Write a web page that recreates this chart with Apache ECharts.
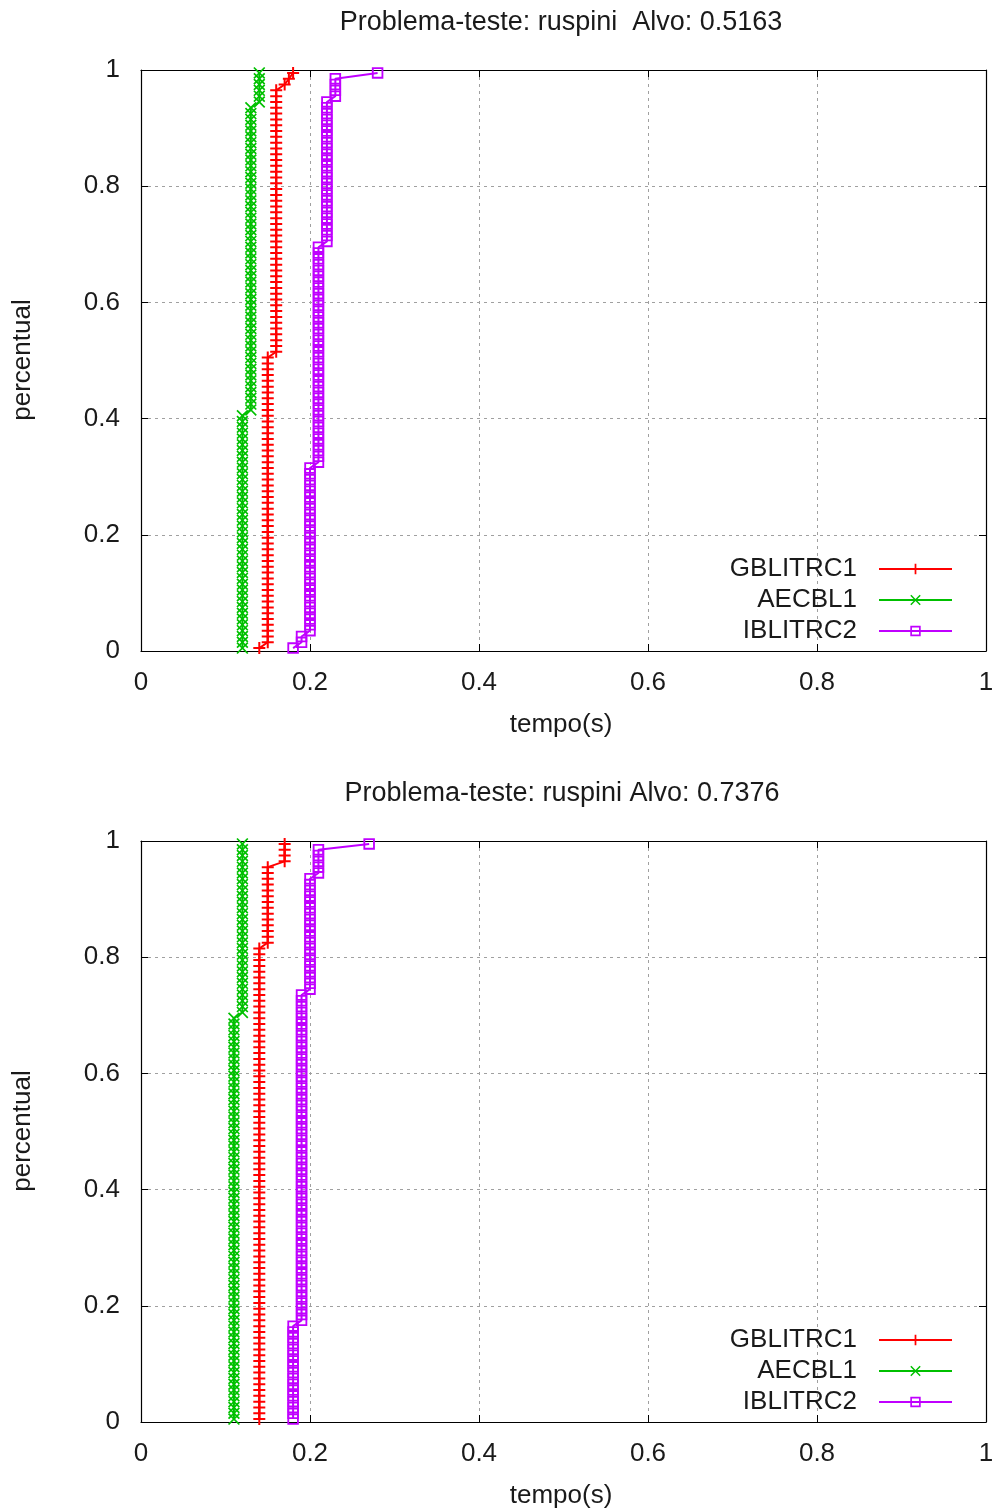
<!DOCTYPE html>
<html>
<head>
<meta charset="utf-8">
<script src="https://cdn.jsdelivr.net/npm/echarts@6/dist/echarts.min.js"></script>
<style>
  html, body { margin: 0; padding: 0; background: #ffffff; }
  #chart { width: 997px; height: 1512px; }
</style>
</head>
<body>
<div id="chart"></div>
<script>
// Time-to-target plots: sorted run times (s) written as runs of equal
// times plus how many runs share each time. 100 runs per algorithm.
const seriesNames = ['GBLITRC1', 'AECBL1', 'IBLITRC2'];

// Target 0.5163
const top_GBLITRC1_times  = [0.14, 0.15, 0.16, 0.17, 0.175, 0.18];
const top_GBLITRC1_counts = [1,    50,   46,   1,    1,     1];
const top_AECBL1_times    = [0.12, 0.13, 0.14];
const top_AECBL1_counts   = [41,   53,   6];
const top_IBLITRC2_times  = [0.18, 0.19, 0.20, 0.21, 0.22, 0.23, 0.28];
const top_IBLITRC2_counts = [1,    2,    29,   38,   25,   4,    1];

// Target 0.7376
const bot_GBLITRC1_times  = [0.14, 0.15, 0.17];
const bot_GBLITRC1_counts = [82,   14,   4];
const bot_AECBL1_times    = [0.11, 0.12];
const bot_AECBL1_counts   = [70,   30];
const bot_IBLITRC2_times  = [0.18, 0.19, 0.20, 0.21, 0.27];
const bot_IBLITRC2_counts = [17,   57,   20,   5,    1];

const titles = ['Problema-teste: ruspini  Alvo: 0.5163', 'Problema-teste: ruspini Alvo: 0.7376'];
const xName = 'tempo(s)';
const yName = 'percentual';

// Empirical cumulative probability: i-th fastest run plotted at (i - 1/2) / n
function cdfPoints(times, counts) {
  const sorted = [];
  times.forEach((t, k) => { for (let j = 0; j < counts[k]; j++) sorted.push(t); });
  const n = sorted.length;
  return sorted.map((t, i) => [t, (i + 0.5) / n]);
}

const FONT = 'Liberation Sans';
const FS = 26;
const TXT = '#1a1a1a';
const colors = ['#ff0000', '#00c000', '#c000ff'];
const symbols = [
  'path://M0,5H12V7H0Z M5,0H7V12H5Z',
  'path://M0,1.2L1.2,0L6,4.8L10.8,0L12,1.2L7.2,6L12,10.8L10.8,12L6,7.2L1.2,12L0,10.8L4.8,6Z',
  'path://M0,0H15V15H0Z M2.4,2.4V12.6H12.6V2.4Z'
];

const grids = [
  { left: 141, top: 70, width: 845, height: 581 },
  { left: 141, top: 841, width: 845, height: 581 }
];

function xAxes(gi) {
  const base = {
    gridIndex: gi, type: 'value', min: 0, max: 1, interval: 0.2,
    axisLine: { show: true, onZero: false, lineStyle: { color: '#000', width: 1.2 } },
    axisTick: { show: true, inside: true, length: 7, lineStyle: { color: '#000' } }
  };
  return [
    Object.assign({}, base, {
      position: 'bottom',
      axisLabel: { show: true, margin: 19, color: TXT, fontFamily: FONT, fontSize: FS },
      splitLine: { show: true, lineStyle: { color: '#a0a0a0', type: [3, 4], width: 1 } }
    }),
    Object.assign({}, base, { position: 'top', axisLabel: { show: false }, splitLine: { show: false } })
  ];
}
function yAxes(gi) {
  const base = {
    gridIndex: gi, type: 'value', min: 0, max: 1, interval: 0.2,
    axisLine: { show: true, onZero: false, lineStyle: { color: '#000', width: 1.2 } },
    axisTick: { show: true, inside: true, length: 7, lineStyle: { color: '#000' } }
  };
  return [
    Object.assign({}, base, {
      position: 'left',
      axisLabel: { show: true, margin: 21, color: TXT, fontFamily: FONT, fontSize: FS },
      splitLine: { show: true, lineStyle: { color: '#a0a0a0', type: [3, 4], width: 1 } }
    }),
    Object.assign({}, base, { position: 'right', axisLabel: { show: false }, splitLine: { show: false } })
  ];
}

const panels = [
  [[top_GBLITRC1_times, top_GBLITRC1_counts], [top_AECBL1_times, top_AECBL1_counts], [top_IBLITRC2_times, top_IBLITRC2_counts]],
  [[bot_GBLITRC1_times, bot_GBLITRC1_counts], [bot_AECBL1_times, bot_AECBL1_counts], [bot_IBLITRC2_times, bot_IBLITRC2_counts]]
];

const series = [];
panels.forEach((panel, gi) => {
  panel.forEach((pair, si) => {
    series.push({
      name: seriesNames[si],
      type: 'line',
      xAxisIndex: gi * 2,
      yAxisIndex: gi * 2,
      data: cdfPoints(pair[0], pair[1]),
      symbol: symbols[si],
      symbolSize: si === 2 ? 11.5 : 12,
      showAllSymbol: true,
      color: colors[si],
      itemStyle: { color: colors[si] },
      lineStyle: { color: colors[si], width: 2 },
      emphasis: { disabled: true },
      z: 2 + si
    });
  });
});

function legendAt(top) {
  return {
    data: seriesNames,
    orient: 'vertical',
    align: 'right',
    right: 44,
    top: top,
    itemWidth: 73,
    itemHeight: 13,
    itemGap: 5,
    padding: 0,
    selectedMode: false,
    textStyle: { color: TXT, fontFamily: FONT, fontSize: FS, padding: [0, 17, 0, 0] }
  };
}

const textGraphic = (x, y, text, rot, size) => ({
  type: 'text', x: x, y: y, rotation: rot || 0,
  style: { text: text, fill: TXT, font: (size || FS) + 'px "' + FONT + '"', textAlign: 'center', textVerticalAlign: 'middle' }
});

const chart = echarts.init(document.getElementById('chart'), null, { renderer: 'canvas' });
chart.setOption({
  animation: false,
  backgroundColor: '#ffffff',
  grid: grids,
  xAxis: xAxes(0).concat(xAxes(1)),
  yAxis: yAxes(0).concat(yAxes(1)),
  legend: [legendAt(556), legendAt(1327)],
  series: series,
  graphic: [
    textGraphic(561, 23, titles[0], 0, 27),
    textGraphic(562, 794, titles[1], 0, 27),
    textGraphic(561, 725, xName),
    textGraphic(561, 1496, xName),
    textGraphic(23, 360, yName, Math.PI / 2),
    textGraphic(23, 1131, yName, Math.PI / 2)
  ]
});
</script>
</body>
</html>
